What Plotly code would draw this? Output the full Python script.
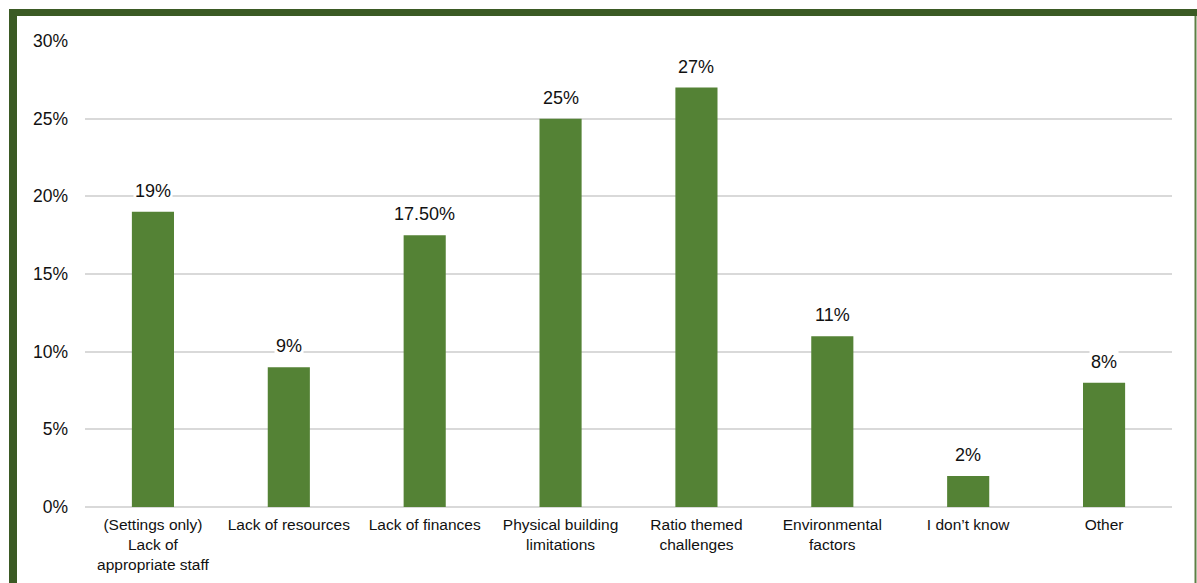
import plotly.graph_objects as go

categories = [
    "(Settings only)<br>Lack of<br>appropriate staff",
    "Lack of resources",
    "Lack of finances",
    "Physical building<br>limitations",
    "Ratio themed<br>challenges",
    "Environmental<br>factors",
    "I don’t know",
    "Other",
]
values = [19, 9, 17.5, 25, 27, 11, 2, 8]
value_labels = ["19%", "9%", "17.50%", "25%", "27%", "11%", "2%", "8%"]
y_ticks = [0, 5, 10, 15, 20, 25, 30]
y_tick_labels = ["0%", "5%", "10%", "15%", "20%", "25%", "30%"]

W, H = 1197, 583
L, R, T, B = 85, 25, 41, 76
pw, ph = W - L - R, H - T - B

def px_x(p):
    return (p - L) / pw

def px_y(p):
    return (H - B - p) / ph

FONT = "Liberation Sans, Arial, sans-serif"

fig = go.Figure()
fig.add_trace(go.Bar(
    x=categories,
    y=values,
    marker=dict(color="#548235", line=dict(width=0)),
    hoverinfo="skip",
))

for cat, v, lab in zip(categories, values, value_labels):
    fig.add_annotation(
        x=cat, y=v, text=lab, showarrow=False,
        yanchor="bottom", yshift=9,
        bgcolor="white", borderpad=1,
        font=dict(family=FONT, size=18, color="#111111"),
    )

# outer frame: thick dark green on the left and top, thin on the right
fig.add_shape(type="line", xref="paper", yref="paper",
              x0=px_x(13), x1=px_x(13), y0=px_y(12.5), y1=px_y(600),
              line=dict(color="#3B5A24", width=8), layer="above")
fig.add_shape(type="line", xref="paper", yref="paper",
              x0=px_x(9), x1=px_x(1197), y0=px_y(12.5), y1=px_y(12.5),
              line=dict(color="#3B5A24", width=7), layer="above")
fig.add_shape(type="line", xref="paper", yref="paper",
              x0=px_x(1195.5), x1=px_x(1195.5), y0=px_y(16), y1=px_y(600),
              line=dict(color="#5E7F45", width=2), layer="above")

fig.update_layout(
    width=W, height=H,
    margin=dict(l=L, r=R, t=T, b=B),
    paper_bgcolor="white", plot_bgcolor="white",
    bargap=0.69,
    showlegend=False,
    font=dict(family=FONT, size=15.5, color="#111111"),
    xaxis=dict(
        showgrid=False, showline=False, ticks="",
        tickfont=dict(size=15.5),
        ticklabelstandoff=6,
        automargin=False,
        fixedrange=True,
    ),
    yaxis=dict(
        range=[0, 30],
        tickvals=y_ticks, ticktext=y_tick_labels,
        showgrid=True, gridcolor="#D9D9D9", gridwidth=2,
        zeroline=True, zerolinecolor="#D9D9D9", zerolinewidth=2,
        showline=False, ticks="",
        ticklabelstandoff=16,
        tickfont=dict(size=17.5),
        automargin=False,
        fixedrange=True,
    ),
)

fig.write_html("out.html")
